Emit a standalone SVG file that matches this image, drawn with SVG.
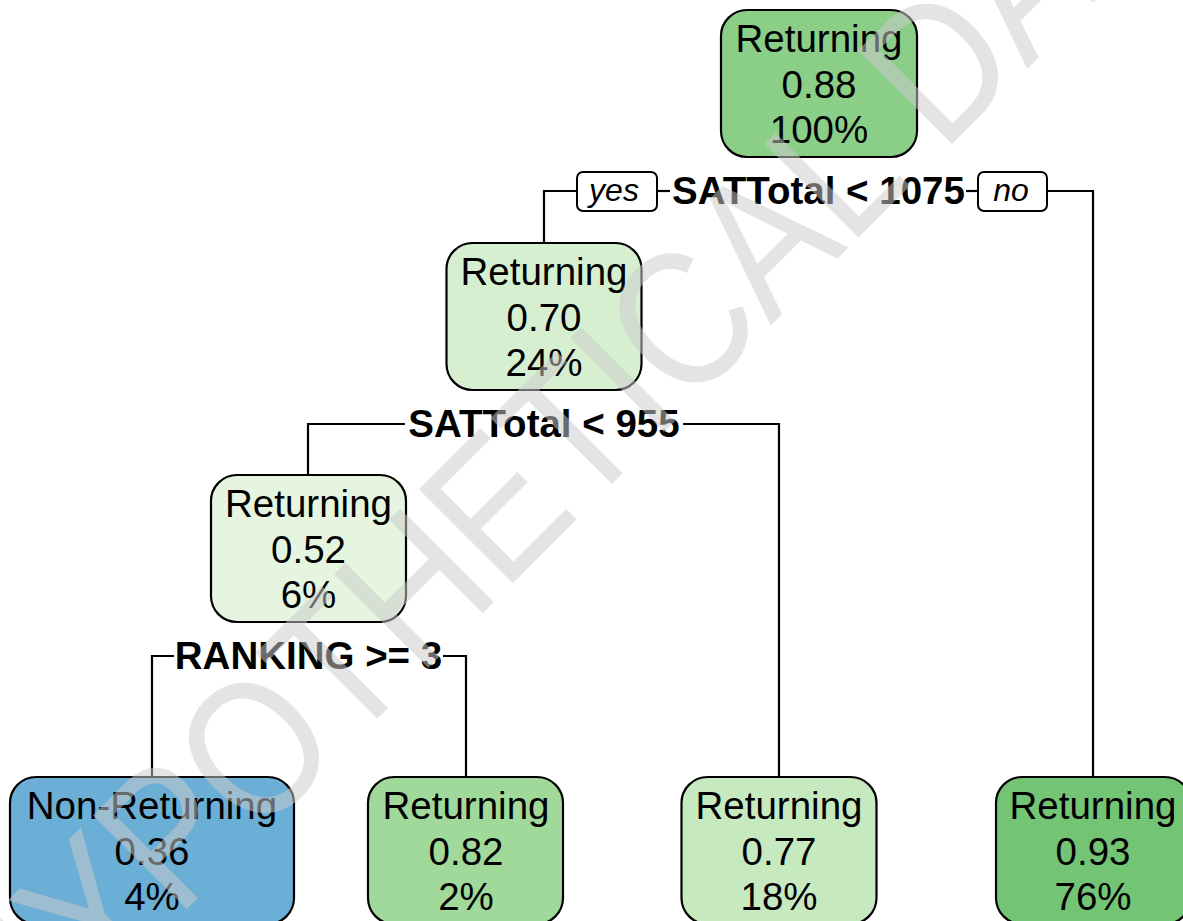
<svg xmlns="http://www.w3.org/2000/svg" width="1183" height="921" viewBox="0 0 1183 921">
  <style>
    .node { stroke: #000; stroke-width: 2.2; }
    .ntext { font-family: "Liberation Sans", Arial, sans-serif; font-size: 38.5px; fill: #000; text-anchor: middle; }
    .split { font-family: "Liberation Sans", Arial, sans-serif; font-size: 38.5px; font-weight: bold; fill: #000; text-anchor: middle; }
    .yn { fill: #fff; stroke: #000; stroke-width: 2; }
    .yntext { font-family: "Liberation Sans", Arial, sans-serif; font-size: 32px; font-style: italic; fill: #000; text-anchor: middle; }
    .edge { fill: none; stroke: #000; stroke-width: 2.2; }
    .mark { font-family: "Liberation Sans", Arial, sans-serif; font-size: 193px; fill: #cccccc; opacity: 0.52; text-anchor: middle; }
  </style>
  <rect width="1183" height="921" fill="#fff"/>

  <!-- connectors -->
  <g id="connectors">
    <polyline class="edge" points="577,191 544,191 544,243"/>
    <line class="edge" x1="657" y1="191" x2="670" y2="191"/>
    <line class="edge" x1="966" y1="191" x2="978" y2="191"/>
    <polyline class="edge" points="1047,191 1093,191 1093,777"/>
    <polyline class="edge" points="405,424 308,424 308,475"/>
    <polyline class="edge" points="683,424 779,424 779,777"/>
    <polyline class="edge" points="174,656 152,656 152,777"/>
    <polyline class="edge" points="443,656 466,656 466,777"/>
  </g>

  <!-- split labels -->
  <g id="split1">
    <rect class="yn" x="577" y="172" width="80" height="39" rx="6"/>
    <text class="yntext" x="614" y="201">yes</text>
    <text class="split" x="818.5" y="204">SATTotal &lt; 1075</text>
    <rect class="yn" x="978" y="172" width="69" height="39" rx="6"/>
    <text class="yntext" x="1011" y="201">no</text>
  </g>
  <g id="split2">
    <text class="split" x="544" y="437">SATTotal &lt; 955</text>
  </g>
  <g id="split3">
    <text class="split" x="308.5" y="669">RANKING &gt;= 3</text>
  </g>

  <!-- nodes -->
  <g id="node-root">
    <rect class="node" x="721" y="10" width="196" height="147" rx="26" fill="#8ace88"/>
    <text class="ntext" x="819" y="52">Returning</text>
    <text class="ntext" x="819" y="97.5">0.88</text>
    <text class="ntext" x="819" y="143">100%</text>
  </g>
  <g id="node-2">
    <rect class="node" x="446.5" y="243" width="195" height="147" rx="26" fill="#d6efd0"/>
    <text class="ntext" x="544" y="285">Returning</text>
    <text class="ntext" x="544" y="330.5">0.70</text>
    <text class="ntext" x="544" y="376">24%</text>
  </g>
  <g id="node-4">
    <rect class="node" x="211" y="475" width="195" height="147" rx="26" fill="#e5f5e0"/>
    <text class="ntext" x="308.5" y="517">Returning</text>
    <text class="ntext" x="308.5" y="562.5">0.52</text>
    <text class="ntext" x="308.5" y="608">6%</text>
  </g>
  <g id="leaf-8">
    <rect class="node" x="10" y="777" width="284" height="147" rx="26" fill="#6baed6"/>
    <text class="ntext" x="152" y="819">Non-Returning</text>
    <text class="ntext" x="152" y="864.5">0.36</text>
    <text class="ntext" x="152" y="910">4%</text>
  </g>
  <g id="leaf-9">
    <rect class="node" x="368" y="777" width="195" height="147" rx="26" fill="#a1d99b"/>
    <text class="ntext" x="466" y="819">Returning</text>
    <text class="ntext" x="466" y="864.5">0.82</text>
    <text class="ntext" x="466" y="910">2%</text>
  </g>
  <g id="leaf-5">
    <rect class="node" x="681.5" y="777" width="195" height="147" rx="26" fill="#c7e9c0"/>
    <text class="ntext" x="779" y="819">Returning</text>
    <text class="ntext" x="779" y="864.5">0.77</text>
    <text class="ntext" x="779" y="910">18%</text>
  </g>
  <g id="leaf-3">
    <rect class="node" x="996" y="777" width="195" height="147" rx="26" fill="#74c476"/>
    <text class="ntext" x="1093" y="819">Returning</text>
    <text class="ntext" x="1093" y="864.5">0.93</text>
    <text class="ntext" x="1093" y="910">76%</text>
  </g>

  <!-- watermark across the plot -->
  <text class="mark" transform="translate(626 470) rotate(-45) scale(0.86 1)">HYPOTHETICAL DATA</text>
</svg>
